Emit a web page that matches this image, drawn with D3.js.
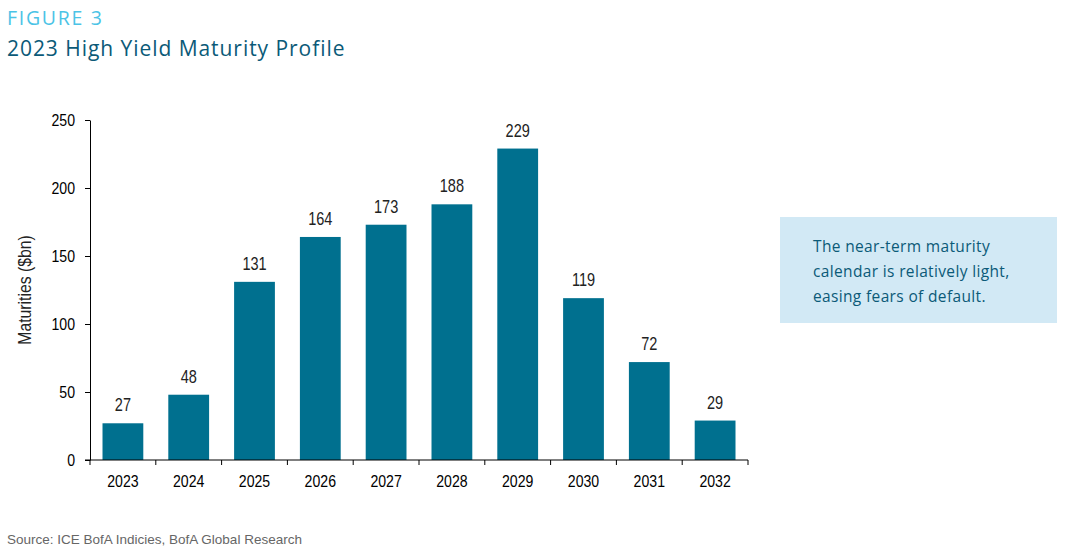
<!DOCTYPE html>
<html><head><meta charset="utf-8">
<script src="https://cdn.jsdelivr.net/npm/d3@7"></script>
<style>body{margin:0;background:#fff;} svg{display:block;}</style>
</head><body>
<svg id="c" width="1068" height="557"></svg>
<script>
const categories = ["2023","2024","2025","2026","2027","2028","2029","2030","2031","2032"];
const values = [27,48,131,164,173,188,229,119,72,29];
const yTicks = [0,50,100,150,200,250];
const noteLines = ["The near-term maturity","calendar is relatively light,","easing fears of default."];

const svg = d3.select("#c");
const m = {left:90, right:748, top:120, bottom:460};
const x = d3.scaleBand().domain(categories).range([m.left, m.right]).paddingInner(0.38).paddingOuter(0.19);
const y = d3.scaleLinear().domain([0,250]).range([m.bottom, m.top]);
const AF = "'Liberation Sans', Arial, sans-serif";
const SX = 0.83;

svg.append("text").attr("x",7).attr("y",25).text("FIGURE 3")
  .attr("font-family","'Open Sans', sans-serif").attr("font-size",19.5).attr("font-weight",500)
  .attr("letter-spacing","1.7").attr("fill","#4bc3e6");
svg.append("text").attr("x",7).attr("y",55.5).text("2023 High Yield Maturity Profile")
  .attr("font-family","'Open Sans', sans-serif").attr("font-size",21).attr("letter-spacing","0.95").attr("fill","#0b5a78");

svg.append("g").selectAll("rect").data(values).join("rect")
  .attr("x",(d,i)=>x(categories[i])).attr("width",x.bandwidth())
  .attr("y",d=>y(d)).attr("height",d=>y(0)-y(d)).attr("fill","#00708f");

svg.append("g").selectAll("text").data(values).join("text")
  .attr("transform",(d,i)=>`translate(${x(categories[i])+x.bandwidth()/2},${y(d)-12}) scale(${SX},1)`)
  .attr("text-anchor","middle").attr("font-family",AF)
  .attr("font-size",17.5).attr("fill","#222").text(d=>d);

const ya = svg.append("g").attr("transform",`translate(${m.left},0)`)
  .call(d3.axisLeft(y).tickValues(yTicks).tickSize(5).tickPadding(0).tickSizeOuter(0));
ya.select(".domain").attr("stroke","#000");
ya.selectAll(".tick text").attr("x",0).attr("transform",`translate(-15,0) scale(${SX},1)`)
  .attr("font-family",AF).attr("font-size",17).attr("fill","#000");

// x axis with ticks at band boundaries
const xa = svg.append("g").attr("transform",`translate(0,${m.bottom})`);
xa.append("line").attr("x1",m.left-5).attr("x2",m.right).attr("stroke","#000");
const bounds = categories.map(c=>x(c)-x.step()*x.paddingInner()/2).concat([m.right]);
bounds[0]=m.left;
xa.selectAll("line.t").data(bounds).join("line").attr("class","t")
  .attr("x1",d=>d).attr("x2",d=>d).attr("y1",0).attr("y2",5).attr("stroke","#000");
xa.selectAll("text").data(categories).join("text")
  .attr("transform",d=>`translate(${x(d)+x.bandwidth()/2},27) scale(${SX},1)`).attr("text-anchor","middle")
  .attr("font-family",AF).attr("font-size",17).attr("fill","#000").text(d=>d);

svg.append("text").attr("transform",`translate(31,${(m.top+m.bottom)/2}) rotate(-90) scale(0.9,1)`)
  .attr("text-anchor","middle").attr("font-family",AF)
  .attr("font-size",17.5).attr("fill","#222").text("Maturities ($bn)");

svg.append("rect").attr("x",780).attr("y",217).attr("width",277).attr("height",106).attr("fill","#d2e9f5");
svg.append("g").selectAll("text").data(noteLines).join("text")
  .attr("x",813).attr("y",(d,i)=>251.5+i*25).attr("font-family","'Open Sans', sans-serif")
  .attr("font-size",15.5).attr("letter-spacing","0.35").attr("fill","#0b5a78").text(d=>d);

svg.append("text").attr("x",7).attr("y",544).attr("font-family",AF)
  .attr("font-size",13.5).attr("fill","#666").text("Source: ICE BofA Indicies, BofA Global Research");
</script>
</body></html>
